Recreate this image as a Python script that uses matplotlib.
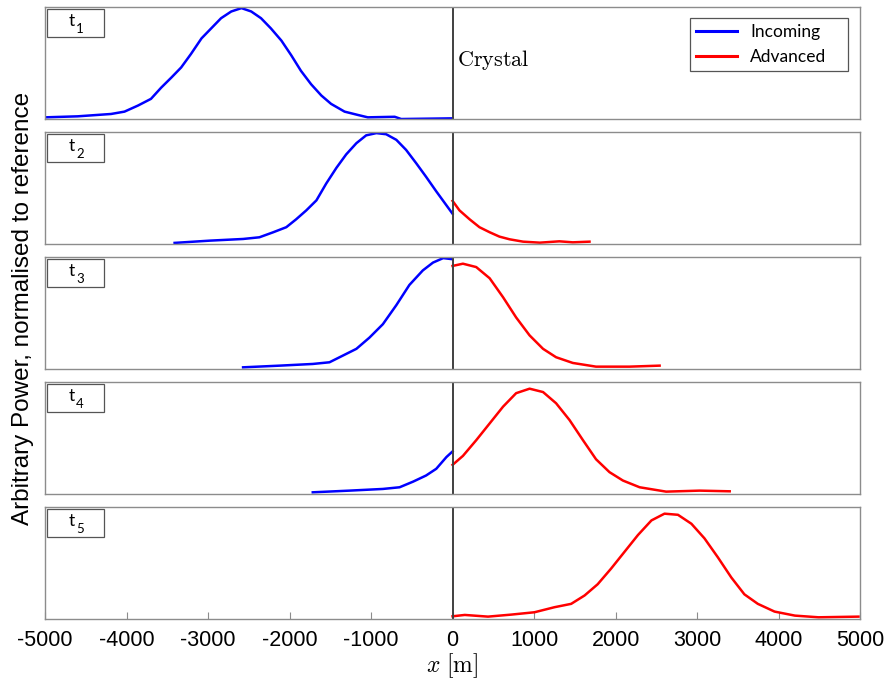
import matplotlib
matplotlib.use("Agg")
import matplotlib.pyplot as plt
from matplotlib.patches import Rectangle
from matplotlib.lines import Line2D

plt.rcParams['mathtext.fontset'] = 'cm'
plt.rcParams['axes.unicode_minus'] = False

# values (x in m, power normalised per panel)
inc_x_1 = [-5000, -4600, -4190, -4025, -3860, -3700, -3575, -3450, -3330, -3210,
           -3080, -2960, -2840, -2715, -2590, -2470, -2350, -2230, -2100, -1980,
           -1860, -1735, -1610, -1490, -1325, -1160, -1040, -710, -630, 0]
inc_y_1 = [0.015, 0.024, 0.045, 0.066, 0.12, 0.18, 0.28, 0.37, 0.46, 0.58,
           0.72, 0.81, 0.90, 0.96, 0.99, 0.96, 0.90, 0.81, 0.70, 0.57,
           0.43, 0.31, 0.21, 0.135, 0.066, 0.036, 0.015, 0.02, 0.0, 0.006]

inc_x_2 = [-3410, -2980, -2570, -2370, -2200, -2040, -1920, -1795, -1670, -1550,
           -1425, -1305, -1180, -1060, -935, -815, -690, -570, -445, -325, -200, 0]
inc_y_2 = [0.01, 0.03, 0.045, 0.06, 0.105, 0.15, 0.22, 0.30, 0.39, 0.54,
           0.68, 0.80, 0.90, 0.97, 0.99, 0.98, 0.93, 0.84, 0.72, 0.60, 0.47, 0.27]
adv_x_2 = [0, 85, 210, 330, 455, 575, 700, 865, 1070, 1310, 1475, 1680]
adv_y_2 = [0.385, 0.30, 0.22, 0.15, 0.105, 0.066, 0.042, 0.021, 0.012, 0.024, 0.015, 0.021]

inc_x_3 = [-2570, -2120, -1715, -1510, -1345, -1180, -1020, -855, -690, -530,
           -365, -240, -115, 0]
inc_y_3 = [0.015, 0.03, 0.045, 0.06, 0.12, 0.18, 0.28, 0.40, 0.57, 0.75,
           0.88, 0.95, 0.99, 0.98]
adv_x_3 = [0, 127, 290, 455, 620, 780, 945, 1110, 1270, 1475, 1760, 2170, 2540]
adv_y_3 = [0.92, 0.94, 0.91, 0.81, 0.64, 0.46, 0.30, 0.18, 0.105, 0.054, 0.021, 0.021, 0.03]

inc_x_4 = [-1715, -1265, -855, -650, -485, -325, -200, -75, 0]
inc_y_4 = [0.015, 0.03, 0.045, 0.06, 0.11, 0.165, 0.225, 0.33, 0.38]
adv_x_4 = [0, 127, 290, 455, 620, 780, 945, 1110, 1270, 1435, 1600, 1760,
           1925, 2090, 2295, 2620, 3030, 3400]
adv_y_4 = [0.26, 0.34, 0.48, 0.63, 0.78, 0.90, 0.94, 0.91, 0.81, 0.66, 0.48, 0.31,
           0.195, 0.12, 0.06, 0.021, 0.03, 0.024]

adv_x_5 = [0, 150, 435, 720, 1005, 1250, 1455, 1620, 1780, 1945, 2110, 2275,
           2440, 2600, 2765, 2930, 3090, 3255, 3420, 3580, 3745, 3950, 4200,
           4490, 4980]
adv_y_5 = [0.024, 0.036, 0.021, 0.039, 0.06, 0.105, 0.135, 0.21, 0.31, 0.45, 0.60, 0.75,
           0.88, 0.94, 0.93, 0.85, 0.72, 0.55, 0.37, 0.22, 0.135, 0.066, 0.03,
           0.015, 0.021]

panels = [
    ('1', inc_x_1, inc_y_1, None, None),
    ('2', inc_x_2, inc_y_2, adv_x_2, adv_y_2),
    ('3', inc_x_3, inc_y_3, adv_x_3, adv_y_3),
    ('4', inc_x_4, inc_y_4, adv_x_4, adv_y_4),
    ('5', None, None, adv_x_5, adv_y_5),
]
xticks = [-5000, -4000, -3000, -2000, -1000, 0, 1000, 2000, 3000, 4000, 5000]

fig = plt.figure(figsize=(8.86, 6.86), dpi=100)
bottoms = [0.8265, 0.6443, 0.4621, 0.2799, 0.0977]
spine_col = '#8c8c8c'

for i, (lab, ix, iy, ax_, ay) in enumerate(panels):
    ax = fig.add_axes([0.0508, bottoms[i], 0.920, 0.1633])
    if ix is not None:
        ax.plot(ix, iy, color='#0000ff', lw=1.8, label='Incoming')
    if ax_ is not None:
        ax.plot(ax_, ay, color='#ff0000', lw=1.8, label='Advanced')
    ax.axvline(0, color='#404040', lw=1.4)
    ax.set_xlim(-5000, 5000)
    ax.set_ylim(0, 1.0)
    ax.set_yticks([])
    for s in ax.spines.values():
        s.set_color(spine_col)
        s.set_linewidth(1.0)
    # time label box
    ax.add_patch(Rectangle((0.003, 0.732), 0.069, 0.25, transform=ax.transAxes,
                           fill=False, edgecolor='#555555', lw=0.9, clip_on=False))
    ax.text(0.036, 0.875, 't', transform=ax.transAxes, ha='right', va='center',
            fontsize=12.5, family='Lato')
    ax.text(0.038, 0.80, lab, transform=ax.transAxes, ha='left', va='center',
            fontsize=9.5, family='Lato')
    if i < 4:
        ax.set_xticks([])
    else:
        ax.set_xticks(xticks)
        ax.set_xticklabels([str(t) for t in xticks])
        ax.tick_params(axis='x', direction='in', length=5, color=spine_col, pad=8)
        for t in ax.get_xticklabels():
            t.set_family('Liberation Sans')
            t.set_fontsize(15.5)
        ax.set_xlabel(r'$x\ [\mathrm{m}]$', fontsize=17, labelpad=0)
    if i == 0:
        ax.text(0.5055, 0.53, r'$\mathrm{Crystal}$', transform=ax.transAxes,
                ha='left', va='center', fontsize=16)
        handles = [Line2D([], [], color='#0000ff', lw=2.2),
                   Line2D([], [], color='#ff0000', lw=2.2)]
        leg = ax.legend(handles, ['Incoming', 'Advanced'], loc='upper left',
                        bbox_to_anchor=(0.7914, 0.0, 0.1939, 0.902), mode='expand',
                        borderaxespad=0,
                        fancybox=False, edgecolor='#555555', framealpha=1,
                        prop={'family': 'Lato', 'size': 12.5}, handlelength=2.35,
                        handletextpad=0.75, borderpad=0.35, labelspacing=0.5)
        leg.get_frame().set_linewidth(0.9)

fig.text(0.026, 0.551, 'Arbitrary Power, normalised to reference', rotation=90,
         ha='center', va='center', fontsize=17.5, family='Liberation Sans')

fig.savefig('out.png', dpi=100)
